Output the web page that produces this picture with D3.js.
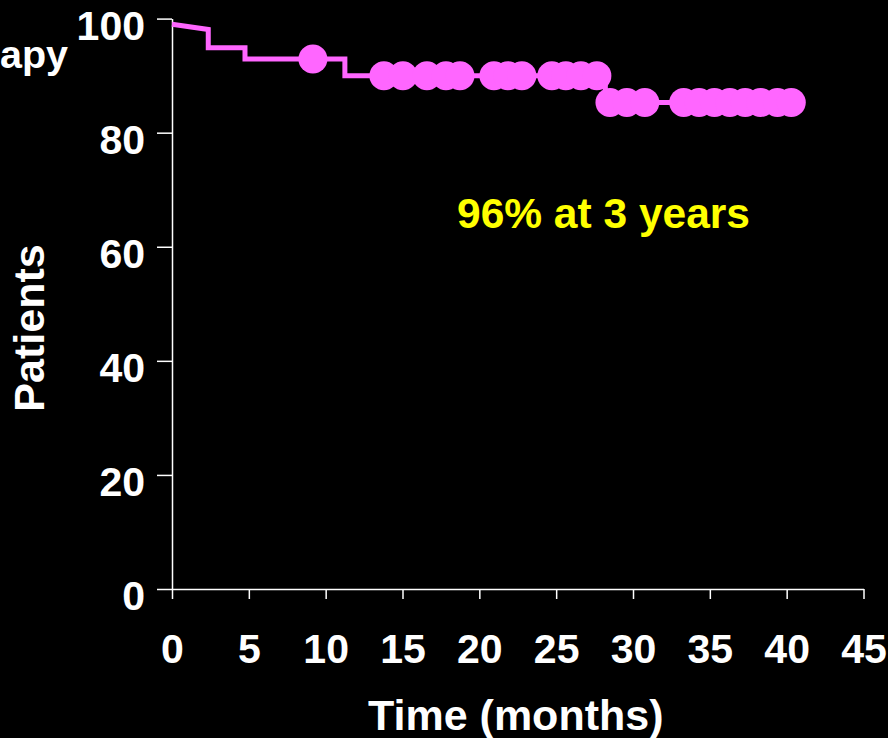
<!DOCTYPE html>
<html><head><meta charset="utf-8">
<script src="https://cdn.jsdelivr.net/npm/d3@7"></script>
<style>html,body{margin:0;padding:0;background:#000;overflow:hidden}</style>
</head><body>
<svg id="chart" width="888" height="738"></svg>
<script>
// ---- data ----
const xTicks = [0, 5, 10, 15, 20, 25, 30, 35, 40, 45];
const yTicks = [0, 20, 40, 60, 80, 100];
// Kaplan-Meier curve vertices (months, %)
const curveTime  = [0, 2.36, 2.36, 4.75, 4.75, 11.25, 11.25, 28.2, 28.2, 40.3];
const curveValue = [99.0, 98.1, 94.9, 94.9, 92.9, 92.9, 90.0, 90.0, 85.3, 85.3];
// censored observations (months, %)
const censorTime  = [9.17, 13.79, 15.03, 16.59, 17.83, 18.74, 20.95, 21.86, 22.77, 24.72, 25.63, 26.61, 27.65,
                     28.5, 29.6, 30.77, 33.3, 34.3, 35.3, 36.3, 37.3, 38.3, 39.4, 40.3];
const censorValue = [92.9, 90.0, 90.0, 90.0, 90.0, 90.0, 90.0, 90.0, 90.0, 90.0, 90.0, 90.0, 90.0,
                     85.3, 85.3, 85.3, 85.3, 85.3, 85.3, 85.3, 85.3, 85.3, 85.3, 85.3];
const xTitle = "Time (months)";
const yTitle = "Patients";
const cornerText = "apy";
const annotation = "96% at 3 years";

// ---- layout ----
const FONT = "'Liberation Sans', Arial, Helvetica, sans-serif";
const PINK = "#FF66FF";
const svg = d3.select("#chart");
svg.append("rect").attr("width", 888).attr("height", 738).attr("fill", "#000");

const x = d3.scaleLinear().domain([0, 45]).range([172, 863.5]);
const y = d3.scaleLinear().domain([0, 100]).range([589, 18.6]);

// y axis
const yAxis = svg.append("g").attr("transform", `translate(${x(0)},0)`)
  .call(d3.axisLeft(y).tickValues(yTicks).tickSize(15).tickSizeOuter(0).tickPadding(12));
yAxis.selectAll("text").attr("dy", "0.51em");

// x axis
const xAxis = svg.append("g").attr("transform", `translate(0,${y(0)})`)
  .call(d3.axisBottom(x).tickValues(xTicks).tickSize(10).tickSizeOuter(0).tickPadding(35));

[yAxis, xAxis].forEach(g => {
  g.select(".domain").attr("stroke", "#fff").attr("stroke-width", 1.5);
  g.selectAll(".tick line").attr("stroke", "#fff").attr("stroke-width", 1.5);
  g.selectAll("text").attr("fill", "#fff").attr("font-family", FONT)
    .attr("font-size", 41).attr("font-weight", "bold");
});

// curve
const pts = curveTime.map((t, i) => [t, curveValue[i]]);
svg.append("path").datum(pts)
  .attr("fill", "none").attr("stroke", PINK).attr("stroke-width", 5)
  .attr("stroke-linejoin", "miter")
  .attr("d", d3.line().x(d => x(d[0])).y(d => y(d[1])));

// censor marks
svg.append("g").selectAll("circle")
  .data(censorTime.map((t, i) => [t, censorValue[i]]))
  .join("circle")
  .attr("cx", d => x(d[0])).attr("cy", d => y(d[1])).attr("r", 14.5)
  .attr("fill", PINK);

// titles
svg.append("text").attr("x", (x(0) + x(45)) / 2 - 2).attr("y", 730)
  .attr("text-anchor", "middle").attr("fill", "#fff")
  .attr("font-family", FONT).attr("font-size", 43).attr("font-weight", "bold")
  .text(xTitle);

svg.append("text").attr("transform", "translate(44,328) rotate(-90)")
  .attr("text-anchor", "middle").attr("fill", "#fff")
  .attr("font-family", FONT).attr("font-size", 43).attr("font-weight", "bold")
  .text(yTitle);

svg.append("text").attr("x", 68).attr("y", 68)
  .attr("text-anchor", "end").attr("fill", "#fff")
  .attr("font-family", FONT).attr("font-size", 39.5).attr("font-weight", "bold")
  .text(cornerText);

svg.append("text").attr("x", 457).attr("y", 228)
  .attr("fill", "#FFFF00")
  .attr("font-family", FONT).attr("font-size", 42.5).attr("font-weight", "bold")
  .text(annotation);
</script>
</body></html>
